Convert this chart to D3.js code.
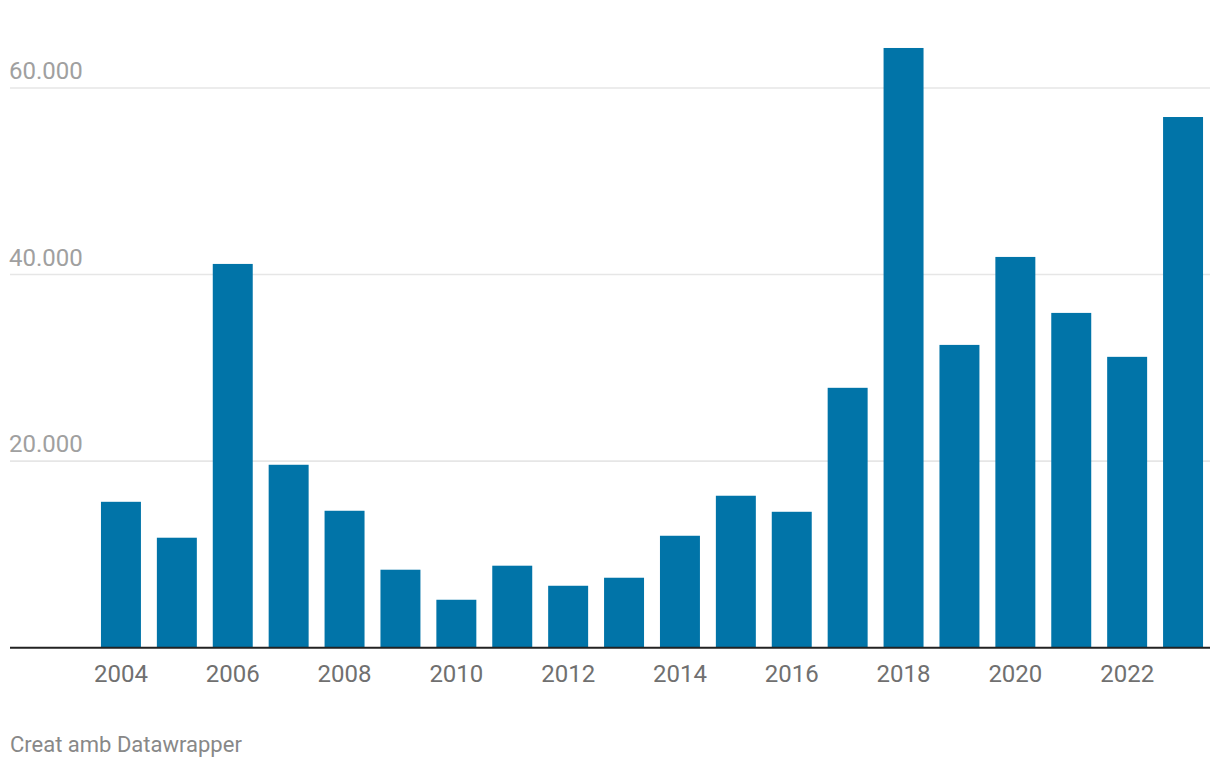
<!DOCTYPE html>
<html>
<head>
<meta charset="utf-8">
<script src="https://cdn.jsdelivr.net/npm/d3@7"></script>
<style>
  body { margin: 0; background: #fff; }
  text { font-family: Roboto, "Noto Sans", sans-serif; }
</style>
</head>
<body>
<div id="wrapper"></div>
<script>
// data
const years = ["2004", "2005", "2006", "2007", "2008", "2009", "2010", "2011", "2012", "2013",
               "2014", "2015", "2016", "2017", "2018", "2019", "2020", "2021", "2022", "2023"]
const values = [15640, 11790, 41140, 19610, 14680, 8360, 5140, 8790, 6640, 7500,
                12000, 16290, 14570, 27860, 64290, 32460, 41890, 35890, 31180, 56890]
const yTicks = [20000, 40000, 60000]
const xTickLabels = ["2004", "2006", "2008", "2010", "2012", "2014", "2016", "2018", "2020", "2022"]
const credit = "Creat amb Datawrapper"

function drawChart() {
    const dataset = years.map((y, i) => ({ year: y, value: values[i] }))

    const width = 1220
    const height = 770

    const svg = d3.select("#wrapper")
        .append("svg")
            .attr("width", width)
            .attr("height", height)

    const xScale = d3.scaleBand()
        .domain(years)
        .range([93, 1211])
        .paddingInner(0.285)
        .paddingOuter(0.1425)

    const yScale = d3.scaleLinear()
        .domain([0, 60000])
        .range([647.7, 88])

    const fmt = d3.formatLocale({ decimal: ",", thousands: ".", grouping: [3], currency: ["", "€"] }).format(",")

    // grid lines + labels
    const grid = svg.append("g")
    yTicks.forEach(t => {
        grid.append("line")
            .attr("x1", 10)
            .attr("x2", 1210)
            .attr("y1", yScale(t))
            .attr("y2", yScale(t))
            .attr("stroke", "#e6e6e6")
            .attr("stroke-width", 1.6)
        grid.append("text")
            .attr("x", 9)
            .attr("y", yScale(t) - 9)
            .attr("fill", "#a0a0a0")
            .style("font-size", "24px")
            .text(fmt(t))
    })

    // bars
    svg.append("g")
        .selectAll("rect")
        .data(dataset)
        .join("rect")
            .attr("x", d => xScale(d.year))
            .attr("width", xScale.bandwidth())
            .attr("y", d => yScale(d.value))
            .attr("height", d => yScale(0) - yScale(d.value))
            .attr("fill", "#0174a8")

    // baseline
    svg.append("line")
        .attr("x1", 10)
        .attr("x2", 1210)
        .attr("y1", yScale(0))
        .attr("y2", yScale(0))
        .attr("stroke", "#222")
        .attr("stroke-width", 2)

    // x axis labels
    const xAxis = d3.axisBottom(xScale)
        .tickValues(xTickLabels)
        .tickSize(0)
        .tickPadding(0)
    const xg = svg.append("g")
        .attr("transform", `translate(0, ${yScale(0)})`)
        .call(xAxis)
    xg.select(".domain").remove()
    xg.selectAll("text")
        .attr("dy", null)
        .attr("y", 34)
        .attr("fill", "#707070")
        .style("font-size", "24px")
        .style("font-family", "Roboto, sans-serif")

    svg.append("text")
        .attr("x", 10)
        .attr("y", 752)
        .attr("fill", "#888")
        .style("font-size", "22px")
        .text(credit)
}
drawChart()
</script>
</body>
</html>
